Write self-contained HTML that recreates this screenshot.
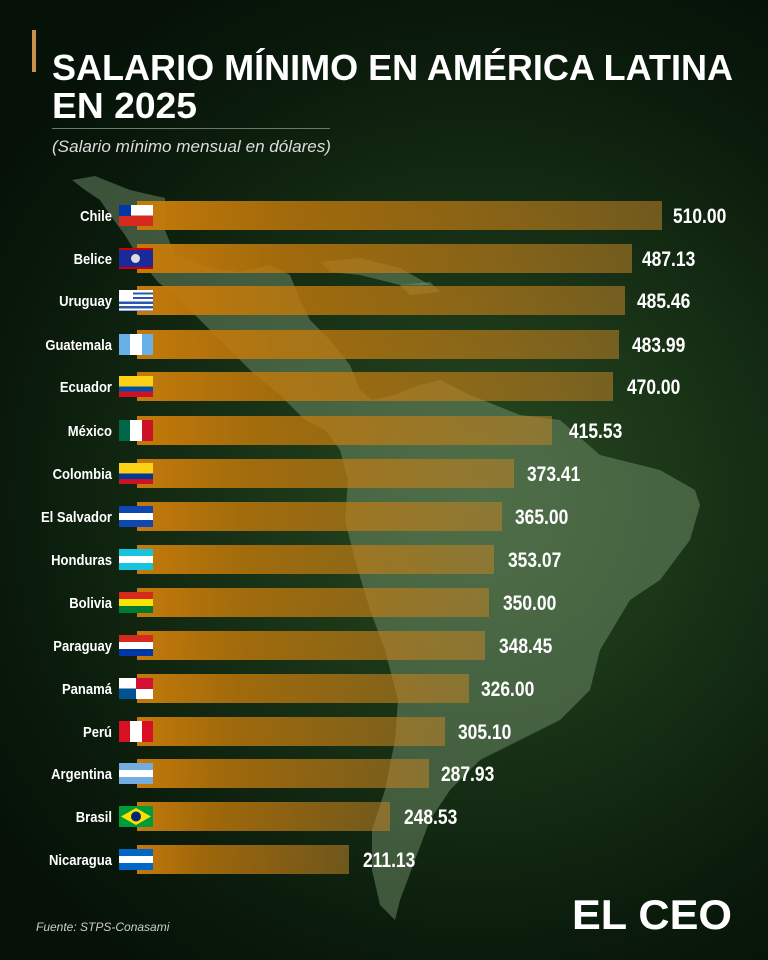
<!DOCTYPE html>
<html><head><meta charset="utf-8"><style>
*{margin:0;padding:0;box-sizing:border-box}
body{width:768px;height:960px;overflow:hidden;position:relative;font-family:"Liberation Sans",sans-serif;
background:radial-gradient(ellipse 75% 60% at 62% 52%,#2a4a22 0%,#173015 45%,#0a1a0b 80%,#061208 100%);}
.row{position:absolute;left:0;height:30px;width:768px}
.bar{position:absolute;left:137px;top:0;height:29px;background:linear-gradient(90deg,#c47a0a 0%,rgba(196,122,10,0.8) 30%,rgba(190,130,40,0.55) 100%)}
.flag{position:absolute;left:119px;top:4px;width:34px;height:21px;overflow:hidden}
svg.txt{position:absolute;left:0;top:0}
</style></head><body>
<svg width="768" height="960" style="position:absolute;left:0;top:0">
<g fill="rgba(125,155,118,0.45)">
<path d="M72 180 L95 176 L130 190 L165 198 L165 230 L175 255 L210 268 L240 272 L270 265 L290 275 L300 300 L310 320 L330 340 L350 365 L360 390 L372 400 L395 395 L420 385 L440 380 L470 395 L520 415 L560 420 L600 455 L660 470 L695 490 L700 505 L690 540 L660 580 L630 600 L600 650 L590 690 L560 720 L520 740 L480 760 L450 790 L430 820 L415 860 L400 900 L395 920 L380 905 L372 870 L372 830 L385 790 L395 740 L398 700 L385 650 L370 610 L355 560 L345 520 L348 480 L340 450 L325 430 L305 420 L280 395 L250 370 L225 345 L200 320 L180 300 L158 282 L140 260 L125 235 L110 215 L100 200 L85 190 Z"/>
<path d="M320 262 L360 258 L400 268 L430 285 L400 285 L360 275 L330 272 Z"/>
<path d="M400 285 L430 282 L440 292 L410 295 Z"/>
</g>
</svg>
<div style="position:absolute;left:32px;top:30px;width:4px;height:42px;background:#c8924a"></div>
<div style="position:absolute;left:52px;top:128px;width:278px;height:1px;background:#6a7a66"></div>

<div class="row" style="top:201px"><div class="bar" style="width:525px"></div><div class="flag" style="background:linear-gradient(#fff 50%,#d52b1e 50%)"><div style="width:12px;height:10.5px;background:#0039a6"></div></div></div>
<div class="row" style="top:244px"><div class="bar" style="width:495px"></div><div class="flag" style="background:#1a2a9a;border-top:2px solid #c00;border-bottom:2px solid #c00"><div style="width:9px;height:9px;border-radius:50%;background:#ddd;margin:4px 12px"></div></div></div>
<div class="row" style="top:286px"><div class="bar" style="width:488px"></div><div class="flag" style="background:repeating-linear-gradient(#fff 0 2.3px,#2a55b0 2.3px 4.6px)"><div style="width:14px;height:11px;background:#fff"></div></div></div>
<div class="row" style="top:330px"><div class="bar" style="width:482px"></div><div class="flag" style="background:linear-gradient(90deg,#6ab0e8 33%,#fff 33% 67%,#6ab0e8 67%)"></div></div>
<div class="row" style="top:372px"><div class="bar" style="width:476px"></div><div class="flag" style="background:linear-gradient(#fcd116 50%,#034ea2 50% 75%,#ce1126 75%)"></div></div>
<div class="row" style="top:416px"><div class="bar" style="width:415px"></div><div class="flag" style="background:linear-gradient(90deg,#006847 33%,#fff 33% 67%,#ce1126 67%)"></div></div>
<div class="row" style="top:459px"><div class="bar" style="width:377px"></div><div class="flag" style="background:linear-gradient(#fcd116 50%,#003893 50% 75%,#ce1126 75%)"></div></div>
<div class="row" style="top:502px"><div class="bar" style="width:365px"></div><div class="flag" style="background:linear-gradient(#0f47af 33%,#fff 33% 67%,#0f47af 67%)"></div></div>
<div class="row" style="top:545px"><div class="bar" style="width:357px"></div><div class="flag" style="background:linear-gradient(#18c3df 33%,#fff 33% 67%,#18c3df 67%)"></div></div>
<div class="row" style="top:588px"><div class="bar" style="width:352px"></div><div class="flag" style="background:linear-gradient(#d52b1e 33%,#f9e300 33% 67%,#007934 67%)"></div></div>
<div class="row" style="top:631px"><div class="bar" style="width:348px"></div><div class="flag" style="background:linear-gradient(#d52b1e 33%,#fff 33% 67%,#0038a8 67%)"></div></div>
<div class="row" style="top:674px"><div class="bar" style="width:332px"></div><div class="flag" style="background:linear-gradient(#fff 50%,#005293 50%)"><div style="position:absolute;right:0;top:0;width:17px;height:10.5px;background:#d21034"></div><div style="position:absolute;left:17px;top:10.5px;width:17px;height:10.5px;background:#fff"></div></div></div>
<div class="row" style="top:717px"><div class="bar" style="width:308px"></div><div class="flag" style="background:linear-gradient(90deg,#d91023 33%,#fff 33% 67%,#d91023 67%)"></div></div>
<div class="row" style="top:759px"><div class="bar" style="width:292px"></div><div class="flag" style="background:linear-gradient(#74acdf 33%,#fff 33% 67%,#74acdf 67%)"></div></div>
<div class="row" style="top:802px"><div class="bar" style="width:253px"></div><div class="flag" style="background:#009c3b"><svg width="34" height="21"><polygon points="17,2 32,10.5 17,19 2,10.5" fill="#ffdf00"/><circle cx="17" cy="10.5" r="5" fill="#002776"/></svg></div></div>
<div class="row" style="top:845px"><div class="bar" style="width:212px"></div><div class="flag" style="background:linear-gradient(#0067c6 33%,#fff 33% 67%,#0067c6 67%)"></div></div>

<svg class="txt" width="768" height="960" font-family="Liberation Sans, sans-serif">
<g fill="#fff" font-weight="bold" font-size="36">
<text x="52" y="80" textLength="681" lengthAdjust="spacingAndGlyphs">SALARIO MÍNIMO EN AMÉRICA LATINA</text>
<text x="52" y="118" textLength="145" lengthAdjust="spacingAndGlyphs">EN 2025</text>
</g>
<text x="52" y="152" fill="#ddd" font-style="italic" font-size="17" textLength="279" lengthAdjust="spacingAndGlyphs">(Salario mínimo mensual en dólares)</text>
<g fill="#fff" font-weight="bold" font-size="15" text-anchor="end">
<text transform="translate(112,221) scale(0.87,1)">Chile</text>
<text transform="translate(112,264) scale(0.87,1)">Belice</text>
<text transform="translate(112,306) scale(0.87,1)">Uruguay</text>
<text transform="translate(112,350) scale(0.87,1)">Guatemala</text>
<text transform="translate(112,392) scale(0.87,1)">Ecuador</text>
<text transform="translate(112,436) scale(0.87,1)">México</text>
<text transform="translate(112,479) scale(0.87,1)">Colombia</text>
<text transform="translate(112,522) scale(0.87,1)">El Salvador</text>
<text transform="translate(112,565) scale(0.87,1)">Honduras</text>
<text transform="translate(112,608) scale(0.87,1)">Bolivia</text>
<text transform="translate(112,651) scale(0.87,1)">Paraguay</text>
<text transform="translate(112,694) scale(0.87,1)">Panamá</text>
<text transform="translate(112,737) scale(0.87,1)">Perú</text>
<text transform="translate(112,779) scale(0.87,1)">Argentina</text>
<text transform="translate(112,822) scale(0.87,1)">Brasil</text>
<text transform="translate(112,865) scale(0.87,1)">Nicaragua</text>
</g>
<g fill="#fff" font-weight="bold" font-size="21">
<text transform="translate(673,223) scale(0.83,1)">510.00</text>
<text transform="translate(642,266) scale(0.83,1)">487.13</text>
<text transform="translate(637,308) scale(0.83,1)">485.46</text>
<text transform="translate(632,352) scale(0.83,1)">483.99</text>
<text transform="translate(627,394) scale(0.83,1)">470.00</text>
<text transform="translate(569,438) scale(0.83,1)">415.53</text>
<text transform="translate(527,481) scale(0.83,1)">373.41</text>
<text transform="translate(515,524) scale(0.83,1)">365.00</text>
<text transform="translate(508,567) scale(0.83,1)">353.07</text>
<text transform="translate(503,610) scale(0.83,1)">350.00</text>
<text transform="translate(499,653) scale(0.83,1)">348.45</text>
<text transform="translate(481,696) scale(0.83,1)">326.00</text>
<text transform="translate(458,739) scale(0.83,1)">305.10</text>
<text transform="translate(441,781) scale(0.83,1)">287.93</text>
<text transform="translate(404,824) scale(0.83,1)">248.53</text>
<text transform="translate(363,867) scale(0.83,1)">211.13</text>
</g>
<text x="36" y="931" fill="#ccc" font-style="italic" font-size="12">Fuente: STPS-Conasami</text>
<text x="572" y="929" fill="#fff" font-weight="bold" font-size="42" textLength="160" lengthAdjust="spacingAndGlyphs">EL CEO</text>
</svg>
</body></html>
